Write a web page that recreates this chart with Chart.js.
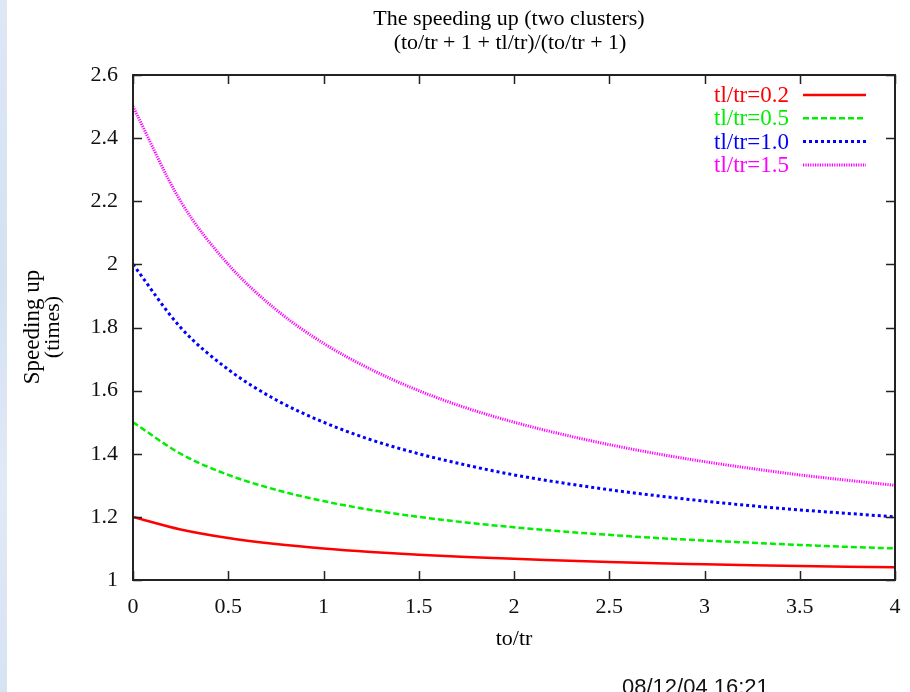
<!DOCTYPE html>
<html>
<head>
<meta charset="utf-8">
<title>The speeding up (two clusters)</title>
<script src="https://cdn.jsdelivr.net/npm/chart.js@4/dist/chart.umd.min.js"></script>
<style>
  html, body { margin: 0; padding: 0; background: #fff; }
  #wrap { position: relative; width: 910px; height: 692px; overflow: hidden; }
  #strip { position: absolute; left: 0; top: 0; width: 7px; height: 692px;
           background: linear-gradient(180deg, #dde8f5, #d3e1f1 40%, #e0eaf6 70%, #d6e3f2); }
  canvas { position: absolute; left: 0; top: 0; }
</style>
</head>
<body>
<div id="wrap">
  <div id="strip"></div>
  <canvas id="myChart" width="910" height="692"></canvas>
</div>
<script>
// to/tr values
const toTr = [0, 0.25, 0.5, 0.75, 1, 1.25, 1.5, 1.75, 2, 2.25, 2.5, 2.75, 3, 3.25, 3.5, 3.75, 4];

// speeding up for each tl/tr
const speed02 = [1.2, 1.16, 1.133, 1.114, 1.1, 1.089, 1.08, 1.073, 1.067, 1.062, 1.057, 1.053, 1.05, 1.047, 1.044, 1.042, 1.04];
const speed05 = [1.5, 1.4, 1.333, 1.286, 1.25, 1.222, 1.2, 1.182, 1.167, 1.154, 1.143, 1.133, 1.125, 1.118, 1.111, 1.105, 1.1];
const speed10 = [2.0, 1.8, 1.667, 1.571, 1.5, 1.444, 1.4, 1.364, 1.333, 1.308, 1.286, 1.267, 1.25, 1.235, 1.222, 1.211, 1.2];
const speed15 = [2.5, 2.2, 2.0, 1.857, 1.75, 1.667, 1.6, 1.545, 1.5, 1.462, 1.429, 1.4, 1.375, 1.353, 1.333, 1.316, 1.3];

const seriesLabels = ['tl/tr=0.2', 'tl/tr=0.5', 'tl/tr=1.0', 'tl/tr=1.5'];
const xTicks = [0, 0.5, 1, 1.5, 2, 2.5, 3, 3.5, 4];
const yTicks = [1, 1.2, 1.4, 1.6, 1.8, 2, 2.2, 2.4, 2.6];

const titleLines = ['The speeding up (two clusters)', '(to/tr + 1 + tl/tr)/(to/tr + 1)'];
const xTitle = 'to/tr';
const yTitle = ['Speeding up', '(times)'];
const stamp = '08/12/04 16:21';

const serif = '"Liberation Serif", "Times New Roman", serif';

function points(ys) {
  return toTr.map((x, i) => ({ x: x, y: ys[i] }));
}

// рамка, внутренние засечки, подписи и легенда в стиле gnuplot
const gnuplotLook = {
  id: 'gnuplotLook',
  afterDraw(chart) {
    const c = chart.ctx;
    const a = chart.chartArea;
    const xs = chart.scales.x;
    const ys = chart.scales.y;
    const tick = 9;

    c.save();
    c.strokeStyle = '#222';
    c.lineWidth = 2;
    c.strokeRect(a.left, a.top, a.right - a.left, a.bottom - a.top);

    c.lineWidth = 1.5;
    c.beginPath();
    xTicks.forEach(v => {
      const px = Math.round(xs.getPixelForValue(v)) + 0.5;
      c.moveTo(px, a.bottom); c.lineTo(px, a.bottom - tick);
      c.moveTo(px, a.top); c.lineTo(px, a.top + tick);
    });
    yTicks.forEach(v => {
      const py = Math.round(ys.getPixelForValue(v)) + 0.5;
      c.moveTo(a.left, py); c.lineTo(a.left + tick, py);
      c.moveTo(a.right, py); c.lineTo(a.right - tick, py);
    });
    c.stroke();

    // заголовок
    c.fillStyle = '#000';
    c.textAlign = 'center';
    c.textBaseline = 'alphabetic';
    c.font = '22px ' + serif;
    c.fillText(titleLines[0], 509, 25);
    c.fillText(titleLines[1], 510, 49);

    // подпись оси X
    c.fillText(xTitle, 514, 645);

    // подпись оси Y
    c.save();
    c.translate(33, 327);
    c.rotate(-Math.PI / 2);
    c.textBaseline = 'middle';
    c.font = '23px ' + serif;
    c.fillText(yTitle[0], 0, 0);
    c.font = '22px ' + serif;
    c.fillText(yTitle[1], 0, 20);
    c.restore();

    // легенда
    c.font = '23px ' + serif;
    c.textAlign = 'right';
    c.textBaseline = 'middle';
    chart.data.datasets.forEach((ds, i) => {
      const y = 95 + i * 23.3;
      c.fillStyle = ds.borderColor;
      c.fillText(ds.label, 789, y + 1);
      c.beginPath();
      c.strokeStyle = ds.borderColor;
      c.lineWidth = ds.borderWidth;
      c.setLineDash(ds.borderDash || []);
      c.moveTo(803, y);
      c.lineTo(866, y);
      c.stroke();
      c.setLineDash([]);
    });

    // отметка времени
    c.fillStyle = '#111';
    c.font = '22px "Liberation Sans", Arial, sans-serif';
    c.textAlign = 'left';
    c.textBaseline = 'alphabetic';
    c.fillText(stamp, 622, 694);
    c.restore();
  }
};

const ctx = document.getElementById('myChart').getContext('2d');

const myChart = new Chart(ctx, {
  type: 'line',
  data: {
    datasets: [
      { label: seriesLabels[0], data: points(speed02), borderColor: '#ff0000', borderWidth: 2.5 },
      { label: seriesLabels[1], data: points(speed05), borderColor: '#00ee00', borderWidth: 2.5, borderDash: [6, 3] },
      { label: seriesLabels[2], data: points(speed10), borderColor: '#0000ff', borderWidth: 3, borderDash: [3, 3] },
      { label: seriesLabels[3], data: points(speed15), borderColor: '#ff00ff', borderWidth: 3, borderDash: [1.2, 1.2] }
    ]
  },
  options: {
    responsive: false,
    animation: false,
    devicePixelRatio: 1,
    layout: { padding: { left: 0, top: 75, right: 15, bottom: 0 } },
    elements: {
      point: { radius: 0 },
      line: { cubicInterpolationMode: 'monotone', fill: false }
    },
    plugins: {
      legend: { display: false },
      title: { display: false },
      tooltip: { enabled: false }
    },
    scales: {
      x: {
        type: 'linear',
        min: 0,
        max: 4,
        afterFit(scale) {
          scale.height = 112;
          scale.paddingLeft = 0;
          scale.paddingRight = 0;
        },
        afterBuildTicks(scale) { scale.ticks = xTicks.map(v => ({ value: v })); },
        grid: { display: false, drawTicks: false },
        border: { display: false },
        ticks: {
          color: '#111', padding: 14, maxRotation: 0,
          font: { family: serif, size: 22 },
          callback: v => String(v)
        }
      },
      y: {
        type: 'linear',
        min: 1,
        max: 2.6,
        afterFit(scale) {
          scale.width = 133;
          scale.paddingTop = 0;
          scale.paddingBottom = 0;
        },
        afterBuildTicks(scale) { scale.ticks = yTicks.map(v => ({ value: v })); },
        grid: { display: false, drawTicks: false },
        border: { display: false },
        ticks: {
          color: '#111', padding: 15,
          font: { family: serif, size: 22 },
          callback: v => String(v)
        }
      }
    }
  },
  plugins: [gnuplotLook]
});
</script>
</body>
</html>
